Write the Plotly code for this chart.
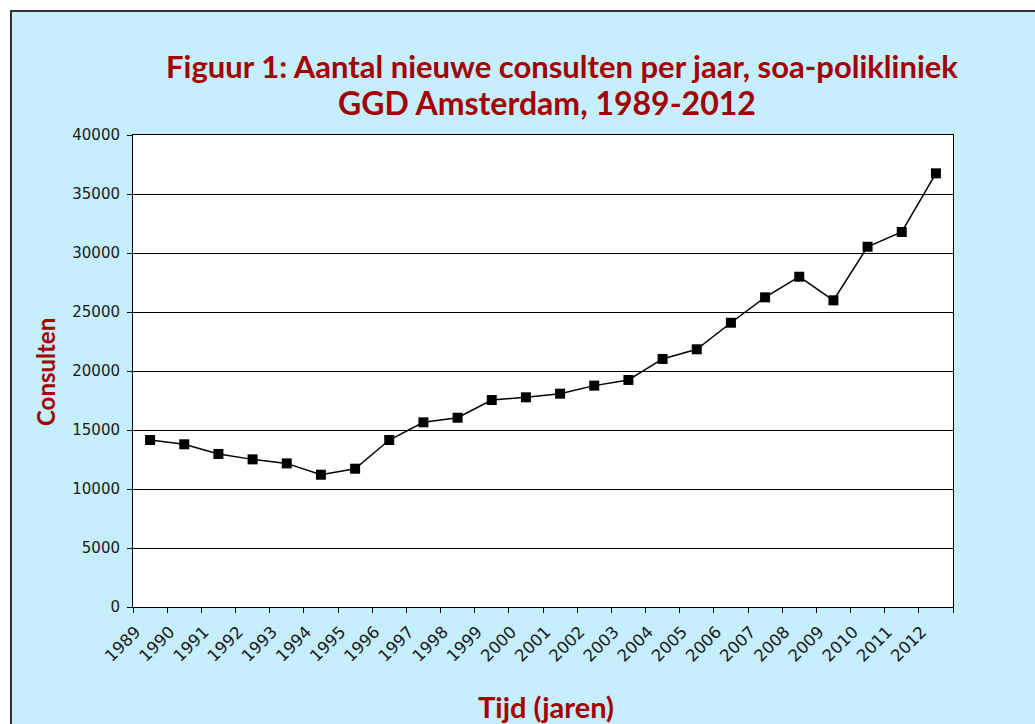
import plotly.graph_objects as go

years = [str(y) for y in range(1989, 2013)]
consulten = [14150, 13790, 12970, 12510, 12170, 11210, 11720, 14150, 15650, 16040,
             17540, 17770, 18080, 18760, 19240, 21020, 21840, 24090, 26240, 27990,
             25990, 30530, 31780, 36750]
y_ticks = list(range(0, 40001, 5000))

W, H = 1035, 724
PL, PR, PT, PB = 133, 953, 135, 607
BLUE = "#C5EEFF"
RED = "#A30000"
FONT = "DejaVu Sans"
TFONT = "Lato"

idx = list(range(len(years)))

fig = go.Figure()
fig.add_trace(go.Scatter(
    x=idx, y=consulten, mode="lines+markers",
    line=dict(color="black", width=1.5),
    marker=dict(symbol="square", size=10, color="black"),
    showlegend=False, hoverinfo="skip",
))
# invisible trace for label axis
fig.add_trace(go.Scatter(x=[idx[0]], y=[consulten[0]], xaxis="x2", mode="markers",
                         marker=dict(opacity=0), showlegend=False, hoverinfo="skip"))

boundaries = [i - 0.5 for i in range(len(years) + 1)]
label_pos = [i - 0.42 for i in idx]

fig.update_layout(
    width=W, height=H,
    margin=dict(l=0, r=0, t=0, b=0, autoexpand=False),
    paper_bgcolor=BLUE, plot_bgcolor="white",
    xaxis=dict(
        domain=[PL / W, PR / W], range=[-0.5, len(years) - 0.5], automargin=False,
        tickmode="array", tickvals=boundaries, ticktext=[""] * len(boundaries),
        ticks="outside", ticklen=5, tickcolor="black", tickwidth=1,
        showgrid=False, zeroline=False,
        showline=True, linecolor="black", linewidth=1, mirror=True,
    ),
    xaxis2=dict(
        overlaying="x", anchor="y", side="bottom", automargin=False,
        domain=[PL / W, PR / W], range=[-0.5, len(years) - 0.5],
        tickmode="array", tickvals=label_pos, ticktext=years,
        tickangle=-45, ticks="", showgrid=False, zeroline=False, showline=False,
        ticklabelstandoff=11,
        tickfont=dict(family=FONT, size=16.5, color="#1a1a1a"),
    ),
    yaxis=dict(
        domain=[1 - PB / H, 1 - PT / H], range=[0, 40000], automargin=False,
        tickmode="array", tickvals=y_ticks, ticktext=[str(v) for v in y_ticks],
        ticks="outside", ticklen=5, tickcolor="black",
        showgrid=True, gridcolor="black", gridwidth=1, zeroline=False,
        showline=True, linecolor="black", linewidth=1, mirror=True,
        ticklabelstandoff=4,
        tickfont=dict(family=FONT, size=15, color="#1a1a1a"),
    ),
    shapes=[
        dict(type="rect", xref="paper", yref="paper", x0=0, x1=10 / W, y0=0, y1=1,
             fillcolor="white", line=dict(width=0)),
        dict(type="rect", xref="paper", yref="paper", x0=0, x1=1, y0=1 - 10 / H, y1=1,
             fillcolor="white", line=dict(width=0)),
        dict(type="line", xref="paper", yref="paper", x0=11 / W, x1=11 / W, y0=0, y1=1 - 10 / H,
             line=dict(color="#333333", width=2)),
        dict(type="line", xref="paper", yref="paper", x0=10 / W, x1=1, y0=1 - 11 / H, y1=1 - 11 / H,
             line=dict(color="#333333", width=2)),
    ],
    annotations=[
        dict(text="<b>Figuur 1: Aantal nieuwe consulten per jaar, soa-polikliniek</b>",
             xref="paper", yref="paper", x=562 / W, y=1 - 66 / H, xanchor="center", yanchor="middle",
             showarrow=False, font=dict(family=TFONT, size=31, color=RED)),
        dict(text="<b>GGD Amsterdam, 1989-2012</b>",
             xref="paper", yref="paper", x=547 / W, y=1 - 102 / H, xanchor="center", yanchor="middle",
             showarrow=False, font=dict(family=TFONT, size=32, color=RED)),
        dict(text="<b>Consulten</b>", textangle=-90,
             xref="paper", yref="paper", x=45 / W, y=1 - 372 / H, xanchor="center", yanchor="middle",
             showarrow=False, font=dict(family=TFONT, size=24, color=RED)),
        dict(text="<b>Tijd (jaren)</b>",
             xref="paper", yref="paper", x=546 / W, y=1 - 706 / H, xanchor="center", yanchor="middle",
             showarrow=False, font=dict(family=TFONT, size=29, color=RED)),
    ],
)

fig.write_html(
    "out.html",
    config={"displayModeBar": False},
    post_script="document.body.style.margin='0';document.body.style.overflow='hidden';",
)
